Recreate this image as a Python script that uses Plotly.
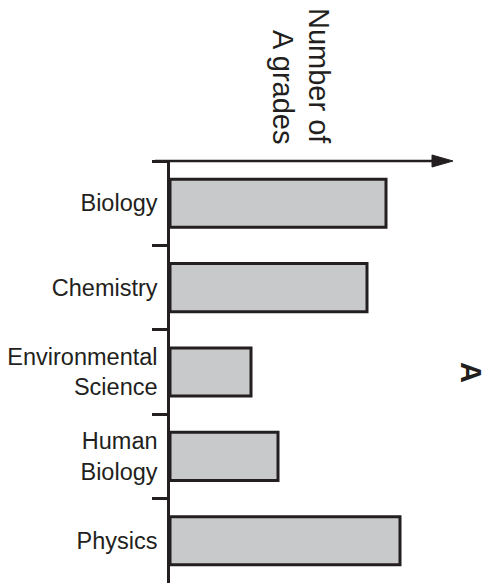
import plotly.graph_objects as go

# ---- data ----
subjects = ["Biology", "Chemistry", "Environmental<br>Science", "Human<br>Biology", "Physics"]
a_grades = [21.6, 19.7, 8.1, 10.8, 23.0]
axis_title_lines = ["Number of", "A grades"]
panel_label = "A"

# ---- layout constants (screen pixels; page body has an 8px margin) ----
OFF = 8
W, H = 490 - OFF, 586 - OFF
PLOT_X0, PLOT_X1 = 170, 453      # screen x of y-axis line and arrow tip
PLOT_Y0, PLOT_Y1 = 161, 583      # screen y of x-axis line and last boundary tick
L = PLOT_X0 - OFF
T = PLOT_Y0 - OFF
R = W - (PLOT_X1 - OFF)
B = H - (PLOT_Y1 - OFF)
PW, PH = PLOT_X1 - PLOT_X0, PLOT_Y1 - PLOT_Y0
INK = "#231f20"
FILL = "#c8c9cb"
FONT = "Liberation Sans, Arial, Helvetica, sans-serif"

def px(x):
    return (x - PLOT_X0) / PW

def py(y):
    return 1 - (y - PLOT_Y0) / PH

fig = go.Figure(
    go.Bar(
        y=subjects,
        x=a_grades,
        orientation="h",
        marker=dict(color=FILL, line=dict(color=INK, width=3)),
        hoverinfo="skip",
    )
)

fig.update_layout(
    template="none",
    width=W,
    height=H,
    margin=dict(l=L, r=R, t=T, b=B, pad=0, autoexpand=False),
    paper_bgcolor="white",
    plot_bgcolor="white",
    bargap=0.43,
    showlegend=False,
    font=dict(family=FONT, color=INK),
)

fig.update_xaxes(range=[0, PW / 10], visible=False, fixedrange=True, automargin=False)
fig.update_yaxes(
    autorange="reversed",
    automargin=False,
    showline=True,
    linecolor=INK,
    linewidth=2.5,
    ticks="outside",
    tickson="boundaries",
    ticklen=15,
    tickwidth=2.5,
    tickcolor=INK,
    showgrid=False,
    zeroline=False,
    tickfont=dict(size=23.5, family=FONT, color=INK),
    ticklabelstandoff=5,
    fixedrange=True,
)

# x-axis arrow line at top
fig.add_shape(type="line", xref="paper", yref="paper",
              x0=px(155), x1=px(434), y0=py(161), y1=py(161),
              line=dict(color=INK, width=2.5))
fig.add_shape(type="path", xref="paper", yref="paper",
              path=f"M {px(432)},{py(155)} L {px(453)},{py(161)} L {px(432)},{py(167)} Z",
              fillcolor=INK, line=dict(color=INK, width=1))

# rotated axis title (two lines, end-aligned)
fig.add_annotation(text=axis_title_lines[0], xref="paper", yref="paper",
                   x=px(319), y=py(146), xanchor="center", yanchor="bottom",
                   textangle=90, showarrow=False,
                   font=dict(size=29, family=FONT, color=INK))
fig.add_annotation(text=axis_title_lines[1], xref="paper", yref="paper",
                   x=px(283), y=py(146), xanchor="center", yanchor="bottom",
                   textangle=90, showarrow=False,
                   font=dict(size=29, family=FONT, color=INK))

# panel label
fig.add_annotation(text=f"<b>{panel_label}</b>", xref="paper", yref="paper",
                   x=px(471), y=py(372), xanchor="center", yanchor="middle",
                   textangle=90, showarrow=False,
                   font=dict(size=29, family=FONT, color=INK))

fig.write_html("out.html")
